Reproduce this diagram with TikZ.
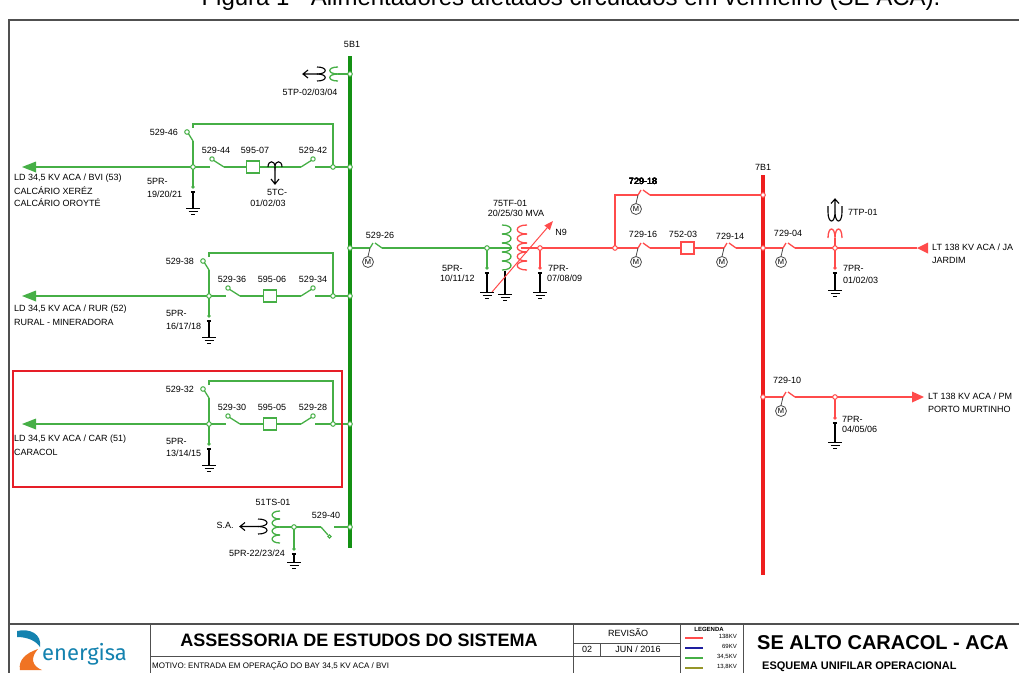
\documentclass[tikz,border=0pt]{standalone}
\usepackage{fontspec}
\setmainfont{Liberation Sans}
\newfontfamily\logofont{Fira Sans}
\usetikzlibrary{arrows.meta}

\definecolor{verde}{RGB}{70,175,70}
\definecolor{verdebarra}{RGB}{20,145,20}
\definecolor{verm}{RGB}{255,75,75}
\definecolor{vermbarra}{RGB}{238,30,30}
\definecolor{moldura}{RGB}{80,80,80}
\definecolor{azulen}{RGB}{20,130,175}
\definecolor{laranjaen}{RGB}{240,115,35}
\definecolor{azulleg}{RGB}{30,30,160}
\definecolor{oliva}{RGB}{150,150,40}
\definecolor{destaque}{RGB}{230,30,40}

\tikzset{
  lg/.style={verde,line width=1.3pt},
  lr/.style={verm,line width=1.3pt},
  lp/.style={black,line width=1.1pt},
  rot/.style={font=\fontsize{9}{9}\selectfont,inner sep=0pt},
  motor/.style={circle,draw=black!70,line width=0.8pt,fill=white,minimum size=11pt,inner sep=0pt,font=\fontsize{7.5}{7.5}\selectfont},
}

% chave aberta, pivo a esquerda / a direita
\newcommand{\chaveL}[3]{%
  \draw[#1] (#2+1.6,#3-6.6) -- (#2+12,#3);
  \draw[#1,fill=white,line width=1pt] (#2,#3-8) circle (2.2);
}
\newcommand{\chaveR}[3]{%
  \draw[#1] (#2-12,#3) -- (#2-1.6,#3-6.6);
  \draw[#1,fill=white,line width=1pt] (#2,#3-8) circle (2.2);
}
% seccionadora motorizada
\newcommand{\chaveM}[3]{%
  \draw[#1] (#2-4,#3) -- (#2-1,#3-5) (#2+1,#3-5) -- (#2+8,#3);
  \draw[black!70,line width=0.8pt] (#2-4,#3) -- (#2-6,#3+8.5);
  \node[motor] at (#2-6,#3+14) {M};
}
\newcommand{\disj}[3]{\draw[#1,fill=white,line width=1.2pt] (#2-6.5,#3-6) rectangle (#2+6.5,#3+6);}
\newcommand{\no}[3]{\draw[#1,fill=white,line width=1pt] (#2,#3) circle (2.3);}
\newcommand{\terra}[2]{\draw[black,line width=1pt] (#1-7,#2) -- (#1+7,#2) (#1-4.5,#2+3) -- (#1+4.5,#2+3) (#1-2,#2+6) -- (#1+2,#2+6);}
% para-raios: cor, x, y do no, y do ponto, y da terra
\newcommand{\pr}[5]{%
  \draw[#1] (#2,#3) -- (#2,#4);
  \fill[#1] (#2,#4) circle (1.8);
  \draw[lp] (#2-2.2,#4+5) -- (#2+2.2,#4+5) (#2,#4+5) -- (#2,#5);
  \terra{#2}{#5}
}
% bobina: cor, x da base, y inicial, n, avanco, altura
\newcommand{\bobina}[6]{%
  \foreach \k in {1,...,#4}
    \draw[#1] (#2,{#3+(\k-1)*#6}) .. controls ({#2+#5},{#3+(\k-1)*#6}) and ({#2+#5},{#3+\k*#6}) .. (#2,{#3+\k*#6});
}

\begin{document}
\begin{tikzpicture}[x=1pt,y=-1pt]
  \useasboundingbox (0,0) rectangle (1019,673);
  \node[anchor=base,inner sep=0pt,font=\fontsize{24}{24}\selectfont] at (571,5)
    {Figura 1 - Alimentadores afetados circulados em vermelho (SE ACA).};
  \draw[moldura,line width=1.3pt] (1019,20) -- (9,20) -- (9,673);

  % barra 34,5 kV
  \draw[verdebarra,line width=4pt] (350,56) -- (350,548);
  \node[rot] at (352,44) {5B1};

  % 5TP
  \draw[lg] (350,74) -- (338,74);
  \bobina{lg}{338}{67}{2}{-11}{7}
  \bobina{lp}{317}{67}{2}{11}{7}
  \draw[lp] (317,74) -- (303,74) (308,70) -- (303,74) -- (308,78);
  \node[rot] at (310,92) {5TP-02/03/04};
  \no{verde}{350}{74}

  % alimentadores
  \foreach \yf/\xn/\xa/\xb/\sv/\sa/\sb/\dj in {
      167/193/212/253/529-46/529-44/529-42/595-07,
      296/209/228/270/529-38/529-36/529-34/595-06,
      424/209/228/270/529-32/529-30/529-28/595-05} {
    \draw[lg] (35,\yf) -- (\xa-2,\yf);
    \draw[lg] (\xa+12,\yf) -- (\xb-6.5,\yf) (\xb+6.5,\yf) -- (301,\yf) (315,\yf) -- (350,\yf);
    \draw[lg] (\xn,\yf-26) -- (\xn,\yf);
    \draw[lg] (\xn,\yf-39) -- (\xn,\yf-43) -- (333,\yf-43) -- (333,\yf);
    \draw[lg] (\xn-4.6,\yf-33.4) -- (\xn,\yf-26);
    \fill[verde] (36,\yf-5.5) -- (22,\yf) -- (36,\yf+5.5) -- cycle;
    \chaveL{lg}{\xa}{\yf}
    \disj{verde}{\xb}{\yf}
    \chaveR{lg}{313}{\yf}
    \pr{lg}{\xn}{\yf}{\yf+20}{\yf+41}
    \no{verde}{\xn-6}{\yf-35}
    \no{verde}{\xn}{\yf}
    \no{verde}{333}{\yf}
    \no{verde}{350}{\yf}
    \node[rot,anchor=east] at (\xn-15,\yf-35) {\sv};
    \node[rot] at (\xa+4,\yf-17) {\sa};
    \node[rot] at (\xb+2,\yf-17) {\dj};
    \node[rot] at (313,\yf-17) {\sb};
  }
  % 5TC
  \draw[lp] (268,167) .. controls (268,160) and (275,160) .. (275,167) .. controls (275,160) and (282,160) .. (282,167);
  \draw[lp] (275,167) -- (275,184) (271,179) -- (275,184) -- (279,179);
  \node[rot] at (277,192) {5TC-};
  \node[rot] at (268,203) {01/02/03};

  \node[rot,anchor=west] at (14,178) {LD 34,5 KV ACA / BVI (53)};
  \node[rot,anchor=west] at (14,191) {CALCÁRIO XERÉZ};
  \node[rot,anchor=west] at (14,203) {CALCÁRIO OROYTÉ};
  \node[rot,anchor=west] at (147,181) {5PR-};
  \node[rot,anchor=west] at (147,194) {19/20/21};
  \node[rot,anchor=west] at (14,309) {LD 34,5 KV ACA / RUR (52)};
  \node[rot,anchor=west] at (14,322) {RURAL - MINERADORA};
  \node[rot,anchor=west] at (166,313) {5PR-};
  \node[rot,anchor=west] at (166,326) {16/17/18};
  \node[rot,anchor=west] at (14,439) {LD 34,5 KV ACA / CAR (51)};
  \node[rot,anchor=west] at (14,452) {CARACOL};
  \node[rot,anchor=west] at (166,441) {5PR-};
  \node[rot,anchor=west] at (166,453) {13/14/15};
  \draw[destaque,line width=2pt] (13,371) rectangle (342,487);

  % servico auxiliar
  \draw[lg] (294,527) -- (321,527) (334,527) -- (350,527);
  \draw[lg] (321,527) -- (328,535);
  \draw[verde,line width=1pt] (329.5,536.5) circle (1.6);
  \draw[verde,line width=2pt] (280,527) -- (294,527);
  \bobina{lg}{280}{511}{4}{-10.5}{8}
  \bobina{lp}{258}{519}{2}{12}{7.5}
  \draw[lp] (258,526.5) -- (240,526.5) (245,522.5) -- (240,526.5) -- (245,530.5);
  \pr{lg}{294}{527}{549}{562}
  \no{verde}{294}{527}
  \no{verde}{350}{527}
  \node[rot] at (225,525) {S.A.};
  \node[rot] at (273,502) {51TS-01};
  \node[rot] at (257,553) {5PR-22/23/24};
  \node[rot] at (326,515) {529-40};

  % transformador 75TF-01
  \draw[lg] (350,248) -- (370,248) (382,248) -- (487,248);
  \chaveM{lg}{374}{248}
  \node[rot] at (380,235) {529-26};
  \draw[verde,line width=2pt] (487,248) -- (512,248);
  \bobina{lg}{502}{225}{5}{12}{9}
  \bobina{lr}{527}{225}{5}{-13}{9}
  \draw[verm,line width=2pt] (521,248) -- (540,248);
  \draw[lp] (505,271) -- (505,294);
  \terra{505}{294}
  \draw[verm,line width=1pt,-{Triangle[length=9pt,width=7pt]}] (492,292) -- (553,221);
  \pr{lg}{487}{248}{268}{292}
  \pr{lr}{540}{248}{268}{292}
  \no{verde}{350}{248}
  \no{verde}{487}{248}
  \node[rot] at (510,203) {75TF-01};
  \node[rot] at (516,213) {20/25/30 MVA};
  \node[rot] at (561,232) {N9};
  \node[rot,anchor=west] at (442,268) {5PR-};
  \node[rot,anchor=west] at (440,278) {10/11/12};
  \node[rot,anchor=west] at (548,268) {7PR-};
  \node[rot,anchor=west] at (547,278) {07/08/09};

  % 138 kV
  \draw[vermbarra,line width=4pt] (763,175) -- (763,575);
  \node[rot] at (763,167) {7B1};
  \draw[lr] (540,248) -- (638,248) (650,248) -- (681,248) (694,248) -- (724,248) (736,248) -- (783,248) (795,248) -- (917,248);
  \draw[lr] (615,248) -- (615,195) -- (638,195) (650,195) -- (763,195);
  \draw[lr] (763,397) -- (783,397) (795,397) -- (912,397);
  \chaveM{lr}{642}{195}
  \chaveM{lr}{642}{248}
  \chaveM{lr}{728}{248}
  \chaveM{lr}{787}{248}
  \chaveM{lr}{787}{397}
  \disj{verm}{687.5}{248}
  \fill[verm] (928,242.5) -- (917,248) -- (928,253.5) -- cycle;
  \fill[verm] (912,391.5) -- (924,397) -- (912,402.5) -- cycle;
  % 7TP-01
  \draw[lr] (835,248) -- (835,238);
  \draw[lr] (828,238) .. controls (828,226) and (835,226) .. (835,238) .. controls (835,226) and (842,226) .. (842,238);
  \draw[lp] (828,206) -- (828,212) .. controls (828,224) and (835,224) .. (835,212) .. controls (835,224) and (842,224) .. (842,212) -- (842,206);
  \draw[lp] (835,212) -- (835,199) (831,203.5) -- (835,199) -- (839,203.5);
  \pr{lr}{835}{248}{268}{290}
  \pr{lr}{835}{397}{418}{442}
  \foreach \xx/\yy in {540/248, 615/248, 763/195, 763/248, 835/248, 763/397, 835/397}
    \no{verm}{\xx}{\yy}
  \node[rot] at (643,181) {729-18};
  \node[rot] at (643,234) {729-16};
  \node[rot] at (683,234) {752-03};
  \node[rot] at (730,236) {729-14};
  \node[rot] at (788,233) {729-04};
  \node[rot] at (787,380) {729-10};
  \node[rot,anchor=west] at (848,212) {7TP-01};
  \node[rot,anchor=west] at (843,268) {7PR-};
  \node[rot,anchor=west] at (843,280) {01/02/03};
  \node[rot,anchor=west] at (842,419) {7PR-};
  \node[rot,anchor=west] at (842,429) {04/05/06};
  \node[rot,anchor=west] at (932,247) {LT 138 KV ACA / JA};
  \node[rot,anchor=west] at (932,260) {JARDIM};
  \node[rot,anchor=west] at (928,396) {LT 138 KV ACA / PM};
  \node[rot,anchor=west] at (928,409) {PORTO MURTINHO};

  % carimbo
  \draw[moldura,line width=1.5pt] (9,624) -- (1019,624);
  \draw[moldura,line width=1pt] (150,624) -- (150,673) (573,624) -- (573,673) (680,624) -- (680,673) (743,624) -- (743,673);
  \draw[moldura,line width=1pt] (150,656) -- (680,656) (573,643) -- (680,643) (600,643) -- (600,656);
  \fill[azulen] (17,631) .. controls (30,628) and (42,634) .. (40,647) .. controls (36,641) and (28,637) .. (17,637) -- cycle;
  \fill[laranjaen] (38,649) .. controls (26,653) and (18,660) .. (20,670) -- (42,670) .. controls (32,666) and (30,658) .. (38,649) -- cycle;
  \node[anchor=west,inner sep=0pt,text=azulen,font=\logofont\fontsize{22}{22}\selectfont] at (42,654) {energisa};
  \node[inner sep=0pt,font=\bfseries\fontsize{18}{18}\selectfont] at (359,640) {ASSESSORIA DE ESTUDOS DO SISTEMA};
  \node[anchor=west,inner sep=0pt,font=\fontsize{8}{8}\selectfont] at (152,666) {MOTIVO: ENTRADA EM OPERAÇÃO DO BAY 34,5 KV ACA / BVI};
  \node[rot] at (628,633) {REVISÃO};
  \node[rot] at (587,649.5) {02};
  \node[rot] at (638,649.5) {JUN / 2016};
  \node[inner sep=0pt,font=\bfseries\fontsize{6}{6}\selectfont] at (709,629) {LEGENDA};
  \foreach \cor/\yl/\tl in {verm/638/138KV, azulleg/648/69KV, verde/658/34{,}5KV, oliva/668/13{,}8KV} {
    \draw[\cor,line width=2pt] (685,\yl) -- (703,\yl);
    \node[anchor=east,inner sep=0pt,font=\fontsize{6}{6}\selectfont] at (737,\yl-1.5) {\tl};
  }
  \node[anchor=west,inner sep=0pt,font=\bfseries\fontsize{20}{20}\selectfont] at (757,643) {SE ALTO CARACOL - ACA};
  \node[anchor=west,inner sep=0pt,font=\bfseries\fontsize{11}{11}\selectfont] at (762,667) {ESQUEMA UNIFILAR OPERACIONAL};
\end{tikzpicture}
\end{document}
